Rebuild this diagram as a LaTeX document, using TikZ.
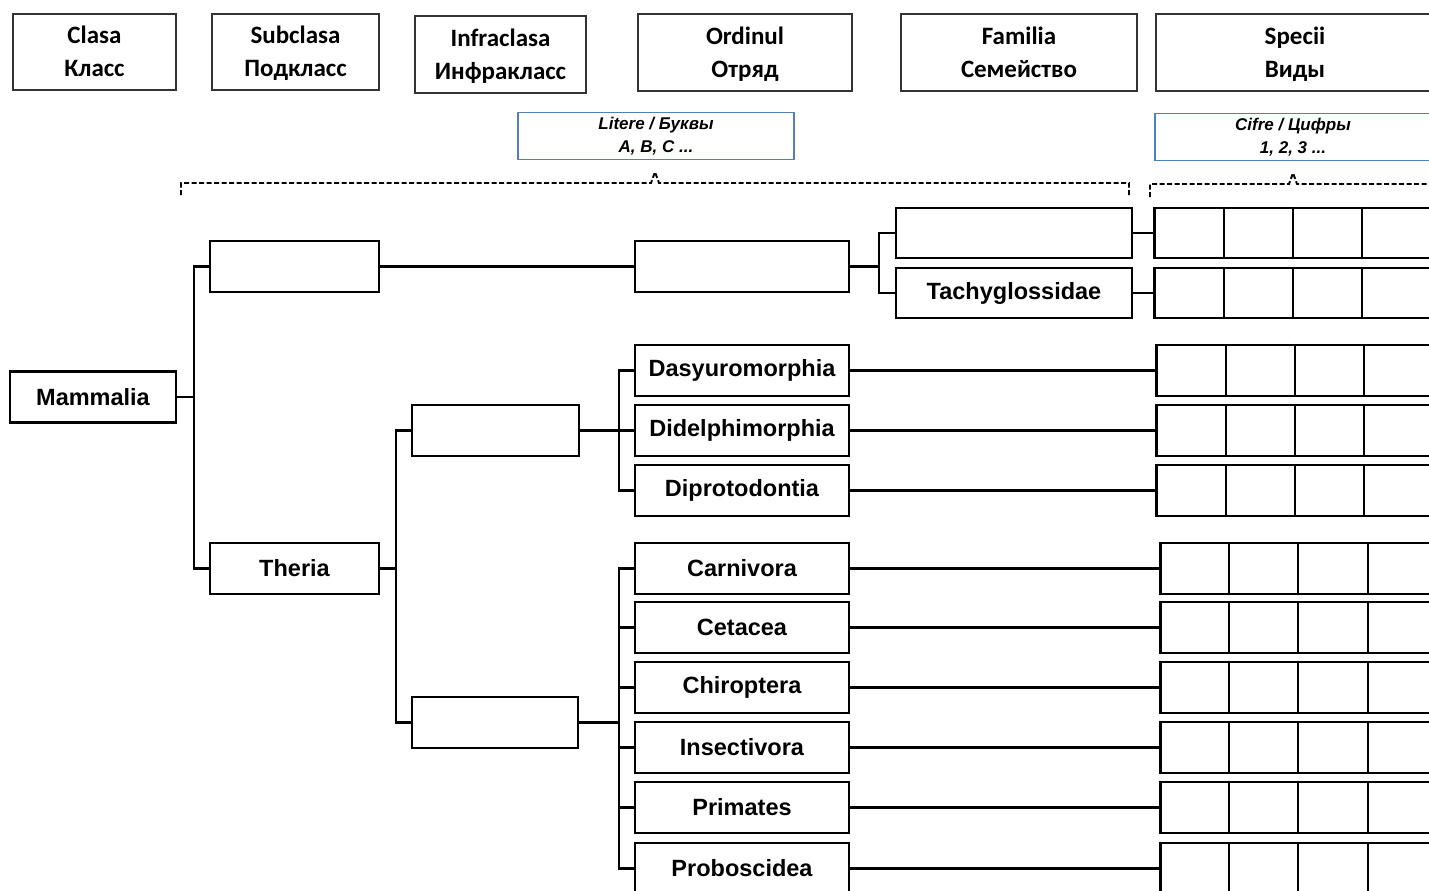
\documentclass[tikz,border=0pt]{standalone}
\usepackage{fontspec}
\setmainfont{Liberation Sans}
\newfontfamily\hdrfont{Carlito}
\definecolor{noteblue}{RGB}{79,129,189}
\newcommand\hstr{\rule[-6pt]{0pt}{29pt}}
\begin{document}
\begin{tikzpicture}[x=1pt,y=-1pt,
  box/.style={draw, line width=2.6pt, inner sep=0pt, minimum height=51pt, font=\fontsize{23.5}{27}\selectfont\bfseries},
  hdr/.style={draw=black!80, line width=1.2pt, inner sep=0pt, minimum height=77pt, align=center, font=\hdrfont\fontsize{25}{33}\selectfont\bfseries},
  note/.style={draw=noteblue, line width=1.2pt, inner sep=0pt, minimum height=47pt, minimum width=276pt, align=center, font=\fontsize{17}{23}\selectfont\bfseries\itshape},
  spgrid/.style={draw, line width=2.6pt, inner sep=0pt, minimum height=51pt, minimum width=300pt, anchor=west},
  link/.style={line width=2.3pt},
  cell/.style={line width=1.2pt},
  brc/.style={line width=1.9pt, dash pattern=on 5pt off 2.5pt}
]
\useasboundingbox (0,0) rectangle (1429,891);
\clip (0,0) rectangle (1429,891);

% header
\node[hdr, minimum width=163pt, minimum height=76pt] (hClasa) at (94.5,52) {Clasa\hstr\\Класс\hstr};
\node[hdr, minimum width=167pt, minimum height=76pt] (hSub) at (295.5,52) {Subclasa\hstr\\Подкласс\hstr};
\node[hdr, minimum width=171pt] (hInfra) at (500.5,54.5) {Infraclasa\hstr\\Инфракласс\hstr};
\node[hdr, minimum width=214pt] (hOrd) at (745,52.5) {Ordinul\hstr\\Отряд\hstr};
\node[hdr, minimum width=236pt] (hFam) at (1019,52.5) {Familia\hstr\\Семейство\hstr};
\node[hdr, minimum width=278pt] (hSp) at (1295,52.5) {Specii\hstr\\Виды\hstr};

\node[note] (nLit) at (656,136) {Litere / Буквы\strut\\A, B, C ...\strut};
\node[note] (nCif) at (1293,137) {Cifre / Цифры\strut\\1, 2, 3 ...\strut};

% braces
\draw[brc] (181,195) -- (181,183) -- (651,183) -- (655,172) -- (659,183) -- (1129,183) -- (1129,195);
\draw[brc] (1150,197) -- (1150,184) -- (1289,184) -- (1293,173) -- (1297,184) -- (1440,184);

% tree nodes
\node[box, minimum width=166pt] (mam) at (93,397) {Mammalia};
\node[box, minimum width=169pt] (sub1) at (294.5,266.5) {};
\node[box, minimum width=169pt] (theria) at (294.5,568.5) {Theria};
\node[box, minimum width=214pt] (ord0) at (742,266.5) {};
\node[box, minimum width=236pt, minimum height=50pt] (fam1) at (1014,233) {};
\node[box, minimum width=236pt, minimum height=50pt] (fam2) at (1014,293) {Tachyglossidae};
\node[box, minimum width=167pt] (inf1) at (495.5,430.5) {};
\node[box, minimum width=166pt] (inf2) at (495,722.5) {};

\node[box, minimum width=214pt] (dasy) at (742,370.5) {Dasyuromorphia};
\node[box, minimum width=214pt] (didel) at (742,430.5) {Didelphimorphia};
\node[box, minimum width=214pt] (dipr) at (742,490.5) {Diprotodontia};
\node[box, minimum width=214pt] (carn) at (742,568.5) {Carnivora};
\node[box, minimum width=214pt] (ceta) at (742,627.5) {Cetacea};
\node[box, minimum width=214pt] (chir) at (742,687.5) {Chiroptera};
\node[box, minimum width=214pt] (insec) at (742,747.5) {Insectivora};
\node[box, minimum width=214pt] (prim) at (742,807.5) {Primates};
\node[box, minimum width=214pt] (probo) at (742,868.5) {Proboscidea};

% species grids
\node[spgrid, minimum height=50pt] (sp1) at (1153,233) {};
\node[spgrid, minimum height=50pt] (sp2) at (1153,293) {};
\node[spgrid] (sp3) at (1155,370.5) {};
\node[spgrid] (sp4) at (1155,430.5) {};
\node[spgrid] (sp5) at (1155,490.5) {};
\node[spgrid] (sp6) at (1159,568.5) {};
\node[spgrid] (sp7) at (1159,627.5) {};
\node[spgrid] (sp8) at (1159,687.5) {};
\node[spgrid] (sp9) at (1159,747.5) {};
\node[spgrid] (sp10) at (1159,807.5) {};
\node[spgrid] (sp11) at (1159,868.5) {};
\foreach \g in {sp1,sp2,sp3,sp4,sp5}
  \foreach \d in {71,140,209}
    \draw[cell] ([xshift=\d pt]\g.north west) -- ([xshift=\d pt]\g.south west);
\foreach \g in {sp6,sp7,sp8,sp9,sp10,sp11}
  \foreach \d in {70,139,209}
    \draw[cell] ([xshift=\d pt]\g.north west) -- ([xshift=\d pt]\g.south west);

% buses
\coordinate (b1) at (194,0);
\coordinate (b2) at (396,0);
\coordinate (b3) at (619,0);
\coordinate (b4) at (879,0);

% connectors
\draw[link] (mam.east) -- (mam.east -| b1);
\draw[link] (sub1.west) -- (sub1.west -| b1) -- (theria.west -| b1) -- (theria.west);
\draw[link] (sub1.east) -- (ord0.west);
\draw[link] (ord0.east) -- (ord0.east -| b4);
\draw[link] (fam1.west) -- (fam1.west -| b4) -- (fam2.west -| b4) -- (fam2.west);
\draw[link] (fam1.east) -- (sp1.west);
\draw[link] (fam2.east) -- (sp2.west);
\draw[link] (theria.east) -- (theria.east -| b2);
\draw[link] (inf1.west) -- (inf1.west -| b2) -- (inf2.west -| b2) -- (inf2.west);
\draw[link] (inf1.east) -- (didel.west);
\draw[link] (dasy.west) -- (dasy.west -| b3) -- (dipr.west -| b3) -- (dipr.west);
\draw[link] (inf2.east) -- (inf2.east -| b3);
\draw[link] (carn.west) -- (carn.west -| b3) -- (probo.west -| b3) -- (probo.west);
\foreach \o in {ceta,chir,insec,prim}
  \draw[link] (\o.west) -- (\o.west -| b3);
\draw[link] (dasy.east) -- (sp3.west);
\draw[link] (didel.east) -- (sp4.west);
\draw[link] (dipr.east) -- (sp5.west);
\draw[link] (carn.east) -- (sp6.west);
\draw[link] (ceta.east) -- (sp7.west);
\draw[link] (chir.east) -- (sp8.west);
\draw[link] (insec.east) -- (sp9.west);
\draw[link] (prim.east) -- (sp10.west);
\draw[link] (probo.east) -- (sp11.west);
\end{tikzpicture}
\end{document}
